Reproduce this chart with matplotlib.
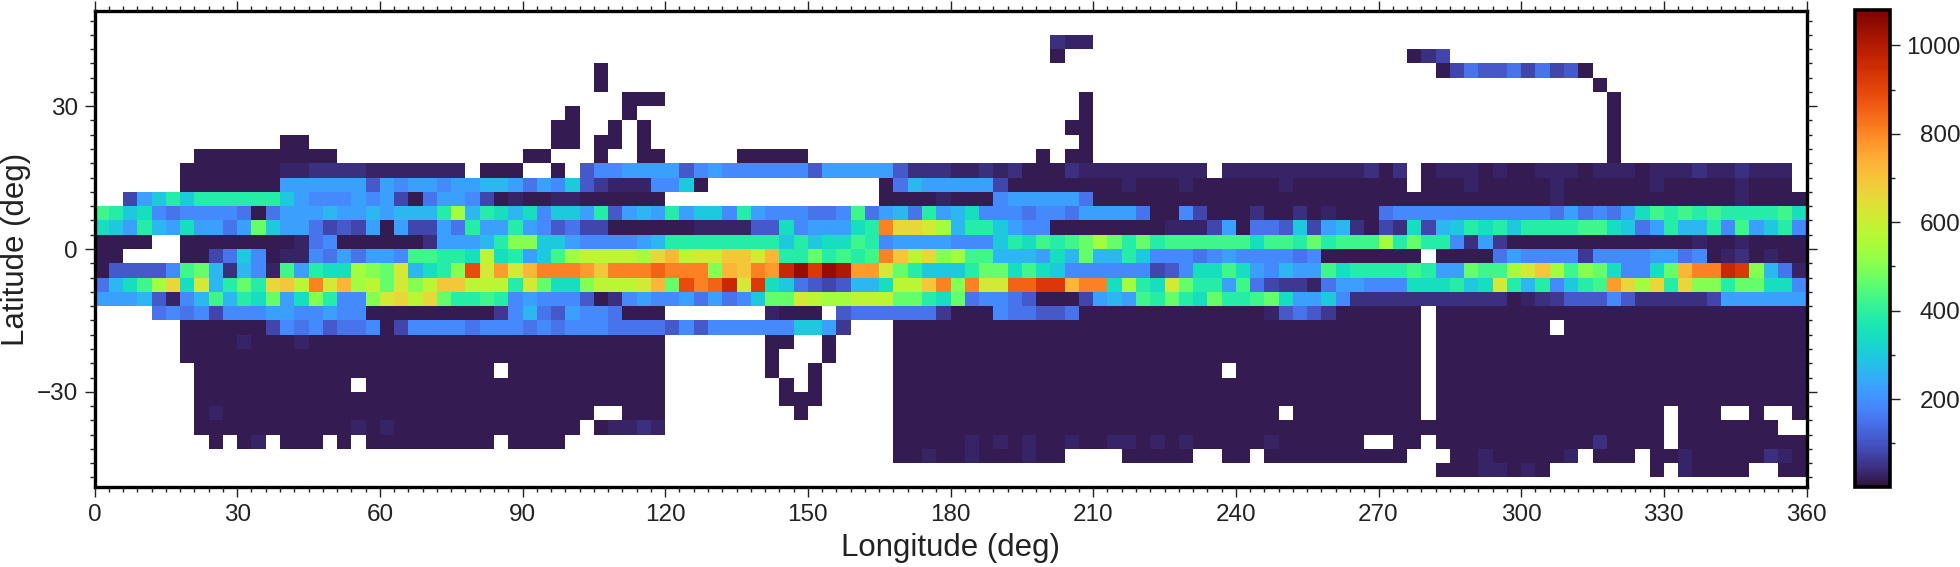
"""Gridded counts on a 3x3 degree lon/lat grid, turbo colormap."""
import numpy as np
import matplotlib
matplotlib.use("Agg")
import matplotlib.pyplot as plt
from matplotlib.ticker import MultipleLocator

# one character per cell, see LEVEL_CHARS/LEVEL_VALUES; "." is an empty cell
LEVEL_CHARS = "0123456789abcdefghijklmnopqrstu"
LEVEL_VALUES = [16, 30, 45, 60, 80, 110, 150, 190, 225, 265, 300, 345, 385, 425, 465, 500,
                540, 580, 620, 660, 695, 730, 770, 810, 850, 890, 925, 965, 1005, 1045, 1075]

LON_EDGES = list(range(0, 361, 3))
LAT_EDGES = list(range(45, -51, -3))     # north to south, 32 edges

NO = "." * 30
DK = "0" * 30

# rows north to south; each row is lon 0-90, 90-180, 180-270, 270-360
LAT_43 = (NO, NO, ".......211....................", NO)
LAT_40 = (NO, NO, ".......0......................", "..024" + "." * 25)
LAT_37 = (NO, ".....0" + "." * 24, NO, "...." + "04655646450" + "." * 15)
LAT_34 = (NO, ".....0" + "." * 24, NO, "." * 15 + "0" + "." * 14)
LAT_31 = (NO, ".......000" + "." * 20, ".........0" + "." * 20, "." * 16 + "0" + "." * 13)
LAT_28 = (NO, "...0...0" + "." * 22, ".........0" + "." * 20, "." * 16 + "0" + "." * 13)
LAT_25 = (NO, "..00..0.0" + "." * 21, "........00" + "." * 20, "." * 16 + "0" + "." * 13)
LAT_22 = ("." * 13 + "00" + "." * 15, "..00.00.0" + "." * 21, ".........0" + "." * 20, "." * 16 + "0" + "." * 13)
LAT_19 = ("." * 7 + "0" * 10 + "." * 13, "00...0..00.....00000..........",
          "......0.00" + "." * 20, "." * 16 + "0" + "." * 13)
LAT_16 = ("......0000000112222" + "1111111.000", "..0.57788885787777775888885222",
          "11212" + "000" + "21" + "11111111" + "." + "1111111111" + "2",
          "02." + "01110100111011101112112111" + ".")
LAT_13 = ("......" + "0000000" + "888888" + "5" + "87887" + "88998",
          "687a53" + "111" + "77" + "a" + "0" + "............" + "0" + "6988",
          "8884" + "00000000100010000001000000", "00." + "00010000010000001000001000" + ".")
LAT_10 = ("..48ac" + "a" + "cccccc" + "a8" + "777878" + "4" + "0" + "6" + "88" + "7" + "4" + "0" + "1",
          "0011000000" + "." * 15 + "00001",
          "0007888886" + "0" * 20, "000000000000100000000000010000")
LAT_07 = ("dcab76" + "7777" + "6" + "0" + "6" + "888" + "9" + "88" + "9" + "8" + "999" + "cg9cb9",
          "b7aa8c5898" + "c8aa7c8777" + "667d6896c8",
          "9b77767768" + "8886007400" + "0200201000", "6777777777" + "77686768bd" + "cdcdccccdb")
LAT_04 = ("ba8c98b886" + "8ea8864548" + "084486c88c", "8756440000" + "00111155b7" + "888bcnjjig",
          "9cca877000" + "0000011148" + "0665a48920", "42b49acbca" + "ccccddba68" + "c99c7d8ac7")
LAT_01 = ("0000.." + "00000000" + "167" + "000000" + "2" + "888" + "9cf",
          "faa8777789" + "ccccccccac" + "abbdc78888",
          "777acbdcde" + "gececddddd" + "dbddcecddd", "gcecc72830" + "00000000000010010000")
LAT_M02 = ("00....0046" + "a701176868" + "87ddccbhbc", "8adghhhhgj" + "lhiikkilcc" + "ecdcdnkhjf",
           "gdd9998b9e" + "99ca777678" + "7777670000", "000.000068" + "7777377778" + "8670120100")
LAT_M05 = ("055557de92" + "971d8cbbgf" + "ei9bcfpimi", "lnnnmknnno" + "nnnflknmrt" + "qtsmmiecaa",
           "aceebdba77" + "7777457bbd" + "b87988dbcc", "ccdc88eddg" + "ikgdfeb77b" + "elnnrqf961")
LAT_M08 = ("69bdgjbi9c" + "ecjkhnilgh" + "eifhkkhhhc", "iebbfhhhil" + "epnoriqba6" + "54599bhhkn",
           "fniiooqqln" + "nbgcbiecc8" + "d643316887", "77bbbcabic" + "9c7acdmjgj" + "cjffceebb7")
LAT_M11 = ("88895179d9" + "cbe8bfc77f" + "ijhjeccdc7", "8777502787" + "786867aeei" + "hgghhheecb",
           "e677650004" + "898dcecbec" + "cdeb88a722", "2222222220" + "1235557522" + "2224888888")
LAT_M14 = ("....676747" + "7788778770" + "0000000037", "9658776000" + ".......100" + "0.56666663",
           "0007665560" + "0000000000" + "0015653000", "000.000000" + "0" * 20)
LAT_M17 = ("......0000" + "0047675667" + "0477776777", "6767776666" + "575777777a" + "a83...0000",
           DK, "000.000000" + "00.0000000" + "0" * 10)
LAT_M20 = ("......0000" + "1000100000" + "0" * 10, "0000000000" + ".......00." + ".0....0000",
           DK, "000.000000" + "0" * 20)
LAT_M23 = ("......0000" + "0" * 20, "0000000000" + ".......0.." + ".0....0000",
           DK, "000.000000" + "0" * 20)
LAT_M26 = (".......000" + "0" * 10 + "00000000.0", "0000000000" + ".......0.." + "0.....0000",
           "0" * 10 + "000000000." + "0" * 10, "000.000000" + "0" * 20)
LAT_M29 = (".......000" + "00000000.0" + "0" * 10, "0000000000" + "........0." + "0.....0000",
           DK, "000.000000" + "0" * 20)
LAT_M32 = (".......000" + "0" * 20, "0000000000" + "........00" + "0.....0000",
           DK, "000.000000" + "0" * 20)
LAT_M35 = (".......010" + "0" * 20, "00000..000" + ".........0" + "......0000",
           "0" * 20 + "000.000000", "000.000000" + "0" * 10 + ".000..0..0")
LAT_M38 = (".......000" + "0000000010" + "1000000000", "0000.01121" + ".........." + "......0000",
           DK, "0" * 20 + ".0000000..")
LAT_M41 = ("........0." + "01.000.0.0" + "00000000.0", "000......." + "." * 10 + "......0000",
           "0101010010" + "0110101000" + "001000000.", ".00.000000" + "0000020000" + ".000000000")
LAT_M44 = (NO, "." * 26 + "0010", "01000100.." + "..00000..0" + "0.00000000",
           "00...00100" + "0001.000.0" + "0100000210")
LAT_M47 = (NO, NO, NO, "....000110" + "10.......0" + ".10000..00")

ROWS = [LAT_43, LAT_40, LAT_37, LAT_34, LAT_31, LAT_28, LAT_25, LAT_22, LAT_19, LAT_16, LAT_13,
        LAT_10, LAT_07, LAT_04, LAT_01, LAT_M02, LAT_M05, LAT_M08, LAT_M11, LAT_M14, LAT_M17,
        LAT_M20, LAT_M23, LAT_M26, LAT_M29, LAT_M32, LAT_M35, LAT_M38, LAT_M41, LAT_M44, LAT_M47]

XTICKS = list(range(0, 361, 30))
YTICKS = [-30, 0, 30]
CBAR_TICKS = [200, 400, 600, 800, 1000]


def decode(rows):
    lookup = dict(zip(LEVEL_CHARS, LEVEL_VALUES))
    out = np.full((len(rows), 120), np.nan)
    bad = [(i, j, len(p)) for i, parts in enumerate(rows) for j, p in enumerate(parts) if len(p) != 30]
    if bad:
        raise ValueError(f"bad row lengths: {bad}")
    for i, parts in enumerate(rows):
        for k, ch in enumerate("".join(parts)):
            if ch != ".":
                out[i, k] = lookup[ch]
    return out


W, H = 1960, 567
plt.rcParams.update({"font.family": ["Liberation Sans", "DejaVu Sans"], "font.size": 17.5})

fig = plt.figure(figsize=(W / 100, H / 100), dpi=100)
ax = fig.add_axes([94.5 / W, 1 - 487 / H, (1806.5 - 94.5) / W, (487 - 11) / H])

grid = decode(ROWS)
mesh = ax.pcolormesh(LON_EDGES, LAT_EDGES, np.ma.masked_invalid(grid),
                     cmap="turbo", vmin=1, vmax=1080, shading="flat")
ax.set_xlim(0, 360)
ax.set_ylim(-50, 50)
ax.set_xticks(XTICKS)
ax.set_yticks(YTICKS)
ax.xaxis.set_minor_locator(MultipleLocator(3))
ax.yaxis.set_minor_locator(MultipleLocator(3))
ax.tick_params(which="major", length=7, width=1.0, top=True, right=True, pad=5, labelsize=17.5, colors="#222222")
ax.tick_params(which="minor", length=3.5, width=1.0, top=True, right=True, colors="#222222")
for sp in ax.spines.values():
    sp.set_linewidth(2.4)
ax.set_axisbelow(False)
fig.text(950 / W, 1 - 548 / H, "Longitude (deg)", ha="center", va="center", fontsize=22.5, color="#222222")
fig.text(16 / W, 1 - 249 / H, "Latitude (deg)", ha="center", va="center", rotation=90, fontsize=22.5, color="#222222")

cax = fig.add_axes([1854.5 / W, 1 - 487 / H, (1889.5 - 1854.5) / W, (487 - 10) / H])
cb = fig.colorbar(mesh, cax=cax, orientation="vertical")
cb.set_ticks(CBAR_TICKS)
cb.ax.yaxis.set_minor_locator(MultipleLocator(100))
cb.outline.set_linewidth(2.6)
cb.ax.tick_params(which="major", length=7, width=1.0, pad=44, labelsize=17.5, colors="#222222")
cb.ax.tick_params(which="minor", length=3.5, width=1.0, colors="#222222")
for lab in cb.ax.get_yticklabels():
    lab.set_ha("right")

fig.savefig("out.png", dpi=100)
